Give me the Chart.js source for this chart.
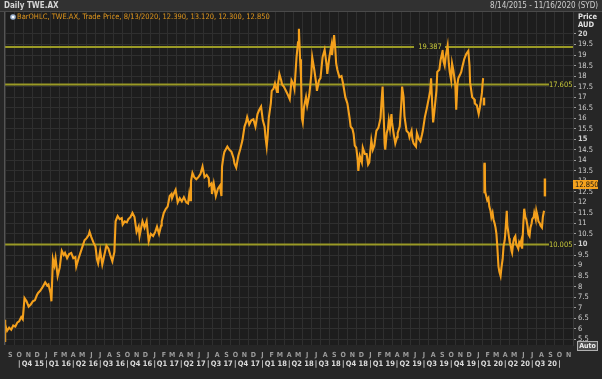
<!DOCTYPE html>
<html><head><meta charset="utf-8">
<script src="https://cdn.jsdelivr.net/npm/chart.js@4.4.1/dist/chart.umd.min.js"></script>
<style>
html,body{margin:0;padding:0;background:#262626;}
#wrap{position:relative;width:602px;height:379px;}
canvas{display:block;}
</style></head><body>
<div id="wrap"><canvas id="c" width="602" height="379"></canvas></div>
<script>
// ---------------- DATA ----------------
const startDate = '2015-08-14';
const endDate = '2020-11-16';
const dates = [
'2015-08-14','2015-08-21','2015-08-28',
'2015-09-04','2015-09-11','2015-09-18','2015-09-25',
'2015-10-01','2015-10-08','2015-10-13','2015-10-19','2015-10-26',
'2015-11-02','2015-11-09','2015-11-16','2015-11-23','2015-11-30',
'2015-12-04','2015-12-11','2015-12-18','2015-12-28',
'2016-01-04','2016-01-08','2016-01-15','2016-01-18','2016-01-23','2016-01-28',
'2016-02-01','2016-02-08','2016-02-15','2016-02-22','2016-02-29',
'2016-03-04','2016-03-11','2016-03-18','2016-03-25',
'2016-04-01','2016-04-08','2016-04-11','2016-04-18','2016-04-25',
'2016-05-02','2016-05-09','2016-05-16','2016-05-23','2016-05-26',
'2016-06-01','2016-06-08','2016-06-15','2016-06-20','2016-06-24',
'2016-07-01','2016-07-08','2016-07-15','2016-07-22','2016-07-29',
'2016-08-04','2016-08-11','2016-08-18','2016-08-22','2016-08-29',
'2016-09-05','2016-09-12','2016-09-15','2016-09-22','2016-09-29',
'2016-10-04','2016-10-11','2016-10-18','2016-10-25',
'2016-11-01','2016-11-08','2016-11-11','2016-11-18','2016-11-21','2016-11-28',
'2016-12-05','2016-12-12','2016-12-19','2016-12-27',
'2017-01-03','2017-01-09','2017-01-16','2017-01-23','2017-01-25',
'2017-02-01','2017-02-08','2017-02-14','2017-02-21','2017-02-27',
'2017-03-01','2017-03-08','2017-03-13','2017-03-20','2017-03-27',
'2017-04-03','2017-04-10','2017-04-18','2017-04-24','2017-04-28',
'2017-05-01','2017-05-04','2017-05-09','2017-05-15','2017-05-22','2017-05-29',
'2017-06-05','2017-06-12','2017-06-19','2017-06-26',
'2017-07-03','2017-07-05','2017-07-12','2017-07-14','2017-07-20','2017-07-27',
'2017-08-03','2017-08-10','2017-08-15','2017-08-17','2017-08-22','2017-08-25',
'2017-09-04','2017-09-11','2017-09-18','2017-09-25','2017-09-28',
'2017-10-04','2017-10-11','2017-10-18','2017-10-25',
'2017-11-01','2017-11-06','2017-11-10','2017-11-17','2017-11-24',
'2017-12-01','2017-12-08','2017-12-15','2017-12-21','2017-12-27',
'2018-01-02','2018-01-08','2018-01-11','2018-01-15','2018-01-18','2018-01-22','2018-01-29',
'2018-02-01','2018-02-07','2018-02-12','2018-02-19','2018-02-22','2018-02-27',
'2018-03-05','2018-03-08','2018-03-14','2018-03-21','2018-03-28',
'2018-04-03','2018-04-09','2018-04-16','2018-04-19','2018-04-26',
'2018-05-01','2018-05-04','2018-05-08','2018-05-11','2018-05-14','2018-05-17','2018-05-21','2018-05-28',
'2018-06-01','2018-06-08','2018-06-11','2018-06-15','2018-06-18','2018-06-25',
'2018-07-02','2018-07-04','2018-07-11','2018-07-16','2018-07-23','2018-07-30',
'2018-08-06','2018-08-08','2018-08-15','2018-08-22','2018-08-24','2018-08-31',
'2018-09-04','2018-09-07','2018-09-11','2018-09-18','2018-09-25',
'2018-10-01','2018-10-08','2018-10-15','2018-10-22','2018-10-26',
'2018-11-01','2018-11-05','2018-11-09','2018-11-14','2018-11-19','2018-11-21','2018-11-26',
'2018-12-03','2018-12-06','2018-12-13','2018-12-19','2018-12-24','2018-12-28',
'2019-01-04','2019-01-09','2019-01-14','2019-01-21','2019-01-28',
'2019-02-04','2019-02-07','2019-02-11','2019-02-14','2019-02-18','2019-02-20','2019-02-25',
'2019-03-01','2019-03-04','2019-03-08','2019-03-13','2019-03-15','2019-03-19','2019-03-26',
'2019-04-01','2019-04-03','2019-04-10','2019-04-12','2019-04-16','2019-04-18','2019-04-23','2019-04-26',
'2019-05-01','2019-05-03','2019-05-10','2019-05-13','2019-05-20','2019-05-23','2019-05-27',
'2019-06-04','2019-06-07','2019-06-14','2019-06-19','2019-06-24','2019-06-27',
'2019-07-04','2019-07-11','2019-07-18','2019-07-22','2019-07-25','2019-07-29',
'2019-08-01','2019-08-05','2019-08-12','2019-08-15','2019-08-22','2019-08-26',
'2019-09-02','2019-09-05','2019-09-09','2019-09-12','2019-09-19','2019-09-23','2019-09-26',
'2019-10-01','2019-10-04','2019-10-08','2019-10-11','2019-10-15','2019-10-18','2019-10-22','2019-10-25',
'2019-11-01','2019-11-04','2019-11-07','2019-11-14','2019-11-18','2019-11-21','2019-11-28',
'2019-12-02','2019-12-04','2019-12-09','2019-12-11','2019-12-18','2019-12-20','2019-12-24','2019-12-27',
'2020-01-02','2020-01-06','2020-01-08','2020-01-13','2020-01-15','2020-01-17','2020-01-19','2020-01-22','2020-01-24','2020-01-31',
'2020-02-04','2020-02-07','2020-02-11','2020-02-14','2020-02-18','2020-02-21','2020-02-25','2020-02-28',
'2020-03-02','2020-03-05','2020-03-09','2020-03-12','2020-03-16','2020-03-19','2020-03-23','2020-03-26','2020-03-30',
'2020-04-01','2020-04-06','2020-04-08','2020-04-14','2020-04-16','2020-04-20','2020-04-22','2020-04-24','2020-04-28',
'2020-05-01','2020-05-05','2020-05-08','2020-05-12','2020-05-15','2020-05-18','2020-05-21','2020-05-25','2020-05-28',
'2020-06-01','2020-06-04','2020-06-08','2020-06-11','2020-06-15','2020-06-18','2020-06-22','2020-06-25','2020-06-29',
'2020-07-01','2020-07-06','2020-07-08','2020-07-13','2020-07-15','2020-07-20','2020-07-22','2020-07-27','2020-07-29',
'2020-08-03','2020-08-06','2020-08-10'
];
const closes = [
6.2,5.9,6.05,
5.95,6.15,6.1,6.3,
6.35,6.55,6.45,7.45,7.3,
7.05,7.15,7.3,7.35,7.6,
7.7,7.8,7.95,8.2,
8.05,8.1,7.7,7.3,9.3,9.0,
9.35,8.5,8.9,9.7,9.5,
9.6,9.35,9.55,9.6,
9.35,9.4,8.95,9.3,9.6,
9.9,10.2,10.3,10.45,10.6,
10.35,10.1,9.9,9.3,9.1,
9.7,9.05,9.5,9.95,9.8,
9.5,9.2,9.65,11.1,11.35,
11.2,11.25,10.95,11.1,11.05,
11.2,11.3,11.5,11.3,
10.6,10.85,10.4,10.9,11.1,10.8,
11.1,10.15,10.5,10.4,
10.6,10.85,10.5,10.9,11.1,
11.5,11.7,11.8,12.3,12.4,
12.2,12.45,12.6,12.0,12.2,
12.05,12.25,12.0,11.95,12.4,
12.1,13.0,13.4,13.2,13.1,13.2,
13.35,13.7,13.2,13.3,
13.15,12.8,12.9,12.4,12.9,12.3,
12.65,12.8,12.3,13.7,14.2,14.4,
14.65,14.5,14.4,14.1,13.85,
13.65,14.2,14.55,14.95,
15.6,15.8,16.05,15.7,15.9,
15.95,15.6,16.2,16.4,16.55,
15.9,15.6,15.1,14.65,15.1,16.0,16.7,
17.3,17.4,17.65,17.25,17.6,18.1,
17.8,17.6,17.5,17.3,17.1,
16.9,17.8,17.6,17.4,18.9,
19.6,20.25,18.8,18.0,16.0,15.8,16.5,17.0,
16.6,17.1,17.5,18.1,18.9,18.3,
17.6,17.3,17.8,17.9,18.9,19.25,
18.5,18.1,18.9,19.45,19.0,19.95,
19.3,18.6,18.3,17.95,18.0,
17.6,17.0,16.7,16.05,15.6,
15.5,15.25,14.7,14.6,14.0,13.5,14.2,
13.9,14.6,14.3,14.3,13.8,13.9,
14.95,14.5,14.7,15.4,15.55,
16.0,16.7,17.5,16.4,14.8,14.5,15.3,
15.5,15.9,15.5,16.2,15.8,15.4,14.8,
15.1,15.3,15.6,16.0,16.85,17.5,17.0,16.1,
15.6,15.4,15.3,15.1,15.4,15.0,14.8,
14.65,15.3,15.0,14.9,15.2,15.4,
16.05,16.5,17.0,17.3,17.9,16.6,
15.8,16.3,17.3,18.2,18.3,18.75,
19.2,18.7,18.5,18.9,19.45,18.6,18.2,
17.8,18.6,18.3,18.0,17.6,16.4,17.6,17.9,
18.1,18.2,18.4,18.8,18.95,19.05,19.2,
18.5,17.7,17.2,17.0,16.9,16.7,16.65,16.6,
16.2,16.5,16.7,17.2,17.6,17.9,null,13.8,12.5,12.1,
12.2,11.8,11.6,11.3,11.5,11.2,11.0,10.8,
10.5,9.9,8.95,8.7,8.5,8.9,9.3,9.9,10.2,
10.5,11.6,10.9,10.3,10.1,9.9,9.7,9.6,10.1,
10.3,10.4,10.0,9.9,9.8,10.1,10.0,10.2,9.8,
11.0,11.7,11.3,11.2,10.9,10.5,10.4,10.8,11.0,
11.2,11.3,11.5,11.2,11.6,11.3,11.1,11.0,10.9,
10.8,11.3,11.6
];
// single tall daily bars (low..high)
const rangeDates = ['2015-08-14','2020-01-20','2020-01-22','2020-08-13'];
const rangeLows  = [5.38, 16.62, 12.45, 12.30];
const rangeHighs = [6.41, 16.96, 13.87, 13.12];
const levels = [19.387, 17.605, 10.005];
const levelLabels = ['19.387','17.605','10.005'];
const lastPrice = 12.85;
const lastPriceLabel = '12.850';
const monthLetters = ['J','F','M','A','M','J','J','A','S','O','N','D'];
const quarterLabels = ['Q4 15','Q1 16','Q2 16','Q3 16','Q4 16','Q1 17','Q2 17','Q3 17','Q4 17','Q1 18','Q2 18','Q3 18','Q4 18','Q1 19','Q2 19','Q3 19','Q4 19','Q1 20','Q2 20','Q3 20'];
const yTickValues = [20,19.5,19,18.5,18,17.5,17,16.5,16,15.5,15,14.5,14,13.5,13,12.5,12,11.5,11,10.5,10,9.5,9,8.5,8,7.5,7,6.5,6,5.5];
const titleText = 'Daily TWE.AX';
const rangeText = '8/14/2015 - 11/16/2020 (SYD)';
const legendText = 'BarOHLC, TWE.AX, Trade Price, 8/13/2020, 12.390, 13.120, 12.300, 12.850';

// ---------------- HELPERS ----------------
const DAY = 86400000;
const t0 = Date.UTC(2015,7,14);
function dayNum(s){const [y,m,d]=s.split('-').map(Number);return (Date.UTC(y,m-1,d)-t0)/DAY;}
function dayOf(y,m){return (Date.UTC(y,m,1)-t0)/DAY;}
const xMin = dayNum(startDate), xMax = dayNum(endDate);

const monthTicks = [];
for (let y=2015,m=8; y<2020 || (y===2020 && m<=10); m++) { if(m>11){m=0;y++;} if(y===2020&&m>10)break; monthTicks.push({value:dayOf(y,m), label:monthLetters[m]}); }
const qTicks = [];
for (let k=0;k<=quarterLabels.length;k++){
  const y = 2015 + Math.floor((9+3*k)/12), m=(9+3*k)%12;
  const s = dayOf(y,m);
  qTicks.push({value:s, label:'|'});
  if (k<quarterLabels.length){
    const y2 = 2015 + Math.floor((12+3*k)/12), m2=(12+3*k)%12;
    qTicks.push({value:(s+dayOf(y2,m2))/2, label:quarterLabels[k]});
  }
}
const labelMap = new Map(); monthTicks.forEach(t=>labelMap.set('m'+t.value,t.label)); qTicks.forEach(t=>labelMap.set('q'+t.value,t.label));

const FONT = "'Liberation Sans Narrow','DejaVu Sans Condensed','Liberation Sans',Arial,sans-serif";
const ORANGE = '#f4a01c';
const LEVEL = '#9a9a26';
const PLOTBG = '#1d1d1d';

const deco = {
  id:'deco',
  beforeDraw(chart){
    const {ctx, chartArea:a} = chart;
    ctx.save();
    ctx.fillStyle = '#262626'; ctx.fillRect(0,0,chart.width,chart.height);
    ctx.fillStyle = PLOTBG; ctx.fillRect(a.left,a.top,a.right-a.left,a.bottom-a.top);
    ctx.fillStyle = '#313131'; ctx.fillRect(0,0,chart.width,12);
    ctx.fillStyle = '#4a4a4a'; ctx.fillRect(0,11,chart.width,1);
    ctx.restore();
  },
  afterDraw(chart){
    const {ctx, chartArea:a, scales} = chart;
    const y = scales.y;
    ctx.save();
    ctx.fillStyle = '#555'; ctx.fillRect(a.left-1,a.top,1.2,a.bottom-a.top);
    ctx.textBaseline='middle';
    ctx.font = `bold 8px ${FONT}`; ctx.fillStyle='#d6d6d6'; ctx.textAlign='left';
    ctx.fillText(titleText, 4, 6);
    ctx.font = `8px ${FONT}`; ctx.textAlign='right'; ctx.fillStyle='#cfcfcf';
    ctx.fillText(rangeText, 598, 6);
    ctx.beginPath(); ctx.arc(13,17,2.8,0,Math.PI*2); ctx.fillStyle='#9fb4d0'; ctx.fill();
    ctx.beginPath(); ctx.arc(13,17,1.3,0,Math.PI*2); ctx.fillStyle='#ffffff'; ctx.fill();
    ctx.font = `7.5px ${FONT}`; ctx.textAlign='left'; ctx.fillStyle='#e0961c';
    ctx.fillText(legendText, 17, 17.5);
    ctx.font = `bold 7.5px ${FONT}`; ctx.fillStyle='#e2e2e2';
    ctx.fillText('Price', 578, 17); ctx.fillText('AUD', 578, 25.5);
    ctx.font = `7.5px ${FONT}`;
    levels.forEach((v,i)=>{
      const py = y.getPixelForValue(v);
      if (i===0){
        ctx.fillStyle=PLOTBG; ctx.fillRect(414,py-3,31,6);
        ctx.fillStyle='#c9c93a'; ctx.textAlign='center'; ctx.fillText(levelLabels[i],430,py+0.5);
      } else {
        ctx.fillStyle=PLOTBG; ctx.fillRect(549,py-3,a.right-549,6);
        ctx.fillStyle='#c9c93a'; ctx.textAlign='right'; ctx.fillText(levelLabels[i],a.right-0.5,py+0.5);
      }
    });
    const pp = y.getPixelForValue(lastPrice);
    ctx.fillStyle='#f5a21e'; ctx.fillRect(a.right,pp-4.5,25,9);
    ctx.fillStyle='#111'; ctx.textAlign='left'; ctx.font=`7.5px ${FONT}`;
    ctx.fillText(lastPriceLabel, a.right+2, pp+0.5);
    ctx.fillStyle='#4c4c4c'; ctx.fillRect(577.5,341.5,20,9);
    ctx.strokeStyle='#b0b0b0'; ctx.lineWidth=1; ctx.strokeRect(577.5,341.5,20,9);
    ctx.fillStyle='#f0f0f0'; ctx.textAlign='center'; ctx.font=`bold 7px ${FONT}`;
    ctx.fillText('Auto', 587.5, 346.5);
    ctx.restore();
  }
};

const lineData = dates.map((d,i)=>({x:dayNum(d), y:closes[i]}));
const rangeData = rangeDates.map((d,i)=>({x:dayNum(d), y:[rangeLows[i], rangeHighs[i]]}));
const levelSets = levels.map((v,i)=>({
  type:'line', data:[{x:xMin,y:v},{x:xMax,y:v}], borderColor:LEVEL, borderWidth:2,
  pointRadius:0, order:3
}));

new Chart(document.getElementById('c'), {
  type:'line',
  data:{datasets:[
    ...levelSets,
    {type:'line', data:lineData, borderColor:ORANGE, borderWidth:2.1, pointRadius:0, tension:0, spanGaps:false, order:1},
    {type:'bar', data:rangeData, backgroundColor:ORANGE, barThickness:1.8, order:0}
  ]},
  options:{
    responsive:false, animation:false, events:[],
    layout:{padding:{top:12,left:5,right:0,bottom:0}},
    plugins:{legend:{display:false}, tooltip:{enabled:false}},
    scales:{
      x:{type:'linear', min:xMin, max:xMax, position:'bottom', weight:0, offset:false,
        grid:{color:'#2f2f2f', lineWidth:1, drawTicks:false},
        border:{display:false},
        afterBuildTicks(s){ s.ticks = monthTicks.map(t=>({value:t.value})); },
        afterFit(s){ s.height = 14; },
        ticks:{autoSkip:false, maxRotation:0, padding:6, color:'#9c9c9c',
          font:{family:FONT, size:7, weight:'bold'},
          callback:(v)=>labelMap.get('m'+v) || ''}
      },
      x2:{type:'linear', min:xMin, max:xMax, position:'bottom', weight:1, offset:false,
        grid:{display:false, drawTicks:false}, border:{display:false},
        afterBuildTicks(s){ s.ticks = qTicks.map(t=>({value:t.value})); },
        afterFit(s){ s.height = 20; },
        ticks:{autoSkip:false, maxRotation:0, padding:1, color:'#dadada',
          font:{family:FONT, size:7.5, weight:'bold'},
          callback:(v)=>labelMap.get('q'+v) || ''}
      },
      y:{type:'linear', position:'right', min:5.225, max:21.045,
        grid:{color:'#2f2f2f', tickColor:'#9a9a9a', tickLength:3},
        border:{display:true, color:'#3a3a3a'},
        afterBuildTicks(s){ s.ticks = yTickValues.map(v=>({value:v})); },
        afterFit(s){ s.width = 29; },
        ticks:{padding:2, color:'#d0d0d0', autoSkip:false,
          font:(c)=>({family:FONT, size:7.5, weight:(c.tick && c.tick.value%5===0)?'bold':'normal'}),
          callback:(v)=>String(v)}
      }
    }
  },
  plugins:[deco]
});
</script>
</body></html>
